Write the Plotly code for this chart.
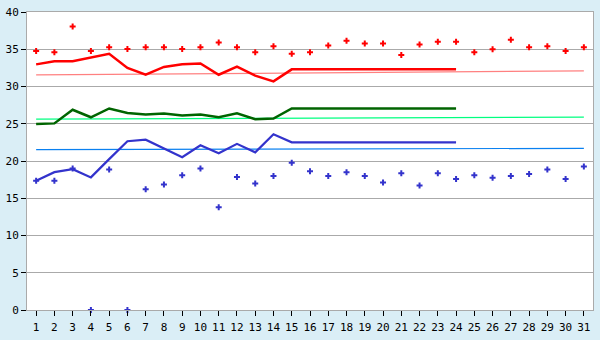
import plotly.graph_objects as go

days = list(range(1, 32))
tick_labels = [str(d) for d in days]

red_points = [34.75, 34.6, 38.05, 34.75, 35.26, 35.05, 35.26, 35.26, 35.05, 35.26,
              35.9, 35.26, 34.6, 35.4, 34.4, 34.6, 35.5, 36.15, 35.77, 35.77,
              34.24, 35.64, 36.02, 36.02, 34.6, 35.0, 36.27, 35.26, 35.4, 34.75, 35.26]
blue_points = [17.36, 17.36, 19.0, 0.0, 18.87, 0.0, 16.2, 16.85, 18.1, 19.0,
               13.8, 17.86, 16.97, 17.99, 19.77, 18.62, 17.99, 18.5, 17.99, 17.1,
               18.37, 16.72, 18.37, 17.6, 18.1, 17.74, 17.99, 18.25, 18.87, 17.6, 19.26]

line_days = list(range(1, 25))
red_line = [32.97, 33.4, 33.4, 33.86, 34.4, 32.5, 31.58, 32.63, 32.97, 33.1,
            31.58, 32.68, 31.45, 30.69, 32.3, 32.3, 32.3, 32.3, 32.3, 32.3,
            32.3, 32.3, 32.3, 32.3]
green_line = [24.97, 25.05, 26.88, 25.87, 27.05, 26.45, 26.24, 26.37, 26.12, 26.24,
              25.87, 26.41, 25.61, 25.69, 27.05, 27.05, 27.05, 27.05, 27.05, 27.05,
              27.05, 27.05, 27.05, 27.05]
blue_line = [17.36, 18.5, 18.9, 17.8, 20.25, 22.65, 22.86, 21.67, 20.5, 22.1,
             21.04, 22.3, 21.16, 23.58, 22.5, 22.5, 22.5, 22.5, 22.5, 22.5,
             22.5, 22.5, 22.5, 22.5]

ref_days = [1, 31]
pink_ref = [31.55, 32.1]
lgreen_ref = [25.62, 25.9]
lblue_ref = [21.52, 21.7]

y_ticks = [0, 5, 10, 15, 20, 25, 30, 35, 40]

fig = go.Figure()

fig.add_trace(go.Scatter(x=ref_days, y=pink_ref, mode="lines",
                         line=dict(color="#ff8080", width=1.2)))
fig.add_trace(go.Scatter(x=ref_days, y=lgreen_ref, mode="lines",
                         line=dict(color="#00ff80", width=1.2)))
fig.add_trace(go.Scatter(x=ref_days, y=lblue_ref, mode="lines",
                         line=dict(color="#0a80f0", width=1.2)))

fig.add_trace(go.Scatter(x=line_days, y=red_line, mode="lines",
                         line=dict(color="#ff0000", width=2.5)))
fig.add_trace(go.Scatter(x=line_days, y=green_line, mode="lines",
                         line=dict(color="#006400", width=2.5)))
fig.add_trace(go.Scatter(x=line_days, y=blue_line, mode="lines",
                         line=dict(color="#3333cc", width=2.2)))

fig.add_trace(go.Scatter(x=days, y=red_points, mode="markers", cliponaxis=False,
                         marker=dict(symbol="cross", size=5, color="#ff0000")))
fig.add_trace(go.Scatter(x=days, y=blue_points, mode="markers", cliponaxis=False,
                         marker=dict(symbol="cross", size=5, color="#3333cc")))

fig.update_layout(
    width=600, height=340,
    margin=dict(l=19, r=6, t=6, b=20, pad=0),
    paper_bgcolor="#daeef6",
    plot_bgcolor="#ffffff",
    showlegend=False,
    font=dict(family="DejaVu Sans Mono", size=11, color="#000000"),
    xaxis=dict(range=[0.5, 31.5], tickmode="array", tickvals=days, ticktext=tick_labels,
               showgrid=False, zeroline=False, showline=True, linecolor="#aaaaaa",
               linewidth=1, mirror=True, ticks="outside", ticklen=5, tickcolor="#000000",
               tickfont=dict(size=11), ticklabelstandoff=2),
    yaxis=dict(range=[0, 40], tickmode="array", tickvals=y_ticks,
               ticktext=[str(v) for v in y_ticks],
               showgrid=True, gridcolor="#aaaaaa", gridwidth=1, zeroline=False,
               showline=True, linecolor="#aaaaaa", linewidth=1, mirror=True,
               ticks="outside", ticklen=5, tickcolor="#000000", tickfont=dict(size=11),
               ticklabeloverflow="allow"),
)

fig.write_html("out.html")
